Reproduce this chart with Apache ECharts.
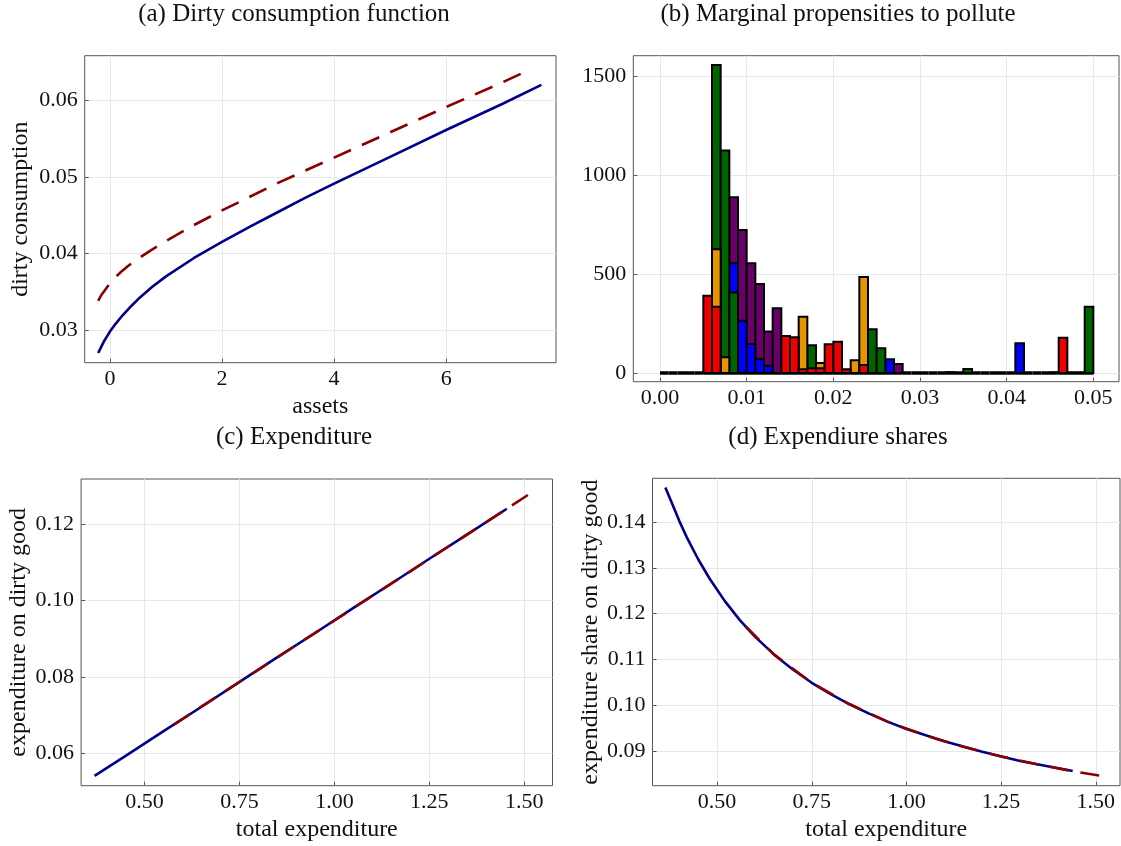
<!DOCTYPE html>
<html>
<head>
<meta charset="utf-8">
<script src="https://cdn.jsdelivr.net/npm/echarts@6/dist/echarts.min.js"></script>
<style>
html,body{margin:0;padding:0;background:#fff;}
#chart{width:1121px;height:846px;}
</style>
</head>
<body>
<div id="chart"></div>
<script>
// ---------- Panel (a): dirty consumption function ----------
const assetsBlue = [-0.21, -0.15, -0.1, -0.05, 0, 0.1, 0.2, 0.35, 0.5, 0.75, 1, 1.5, 2, 2.5, 3, 3.5, 4, 5, 6, 7, 7.70];
const dirtyBlue  = [0.0270, 0.0279, 0.0286, 0.0292, 0.0298, 0.0308, 0.0317, 0.0329, 0.0340, 0.0356, 0.0370, 0.0394, 0.0415, 0.0435, 0.0454, 0.0473, 0.0491, 0.0526, 0.0561, 0.0595, 0.0620];
const assetsRed  = [-0.21, -0.15, -0.1, -0.05, 0, 0.1, 0.2, 0.35, 0.5, 0.75, 1, 1.5, 2, 3, 4, 5, 6, 7, 7.494];
const dirtyRed   = [0.0338, 0.0346, 0.0351, 0.0356, 0.0361, 0.0369, 0.0376, 0.0385, 0.0393, 0.0405, 0.0416, 0.0437, 0.0456, 0.0492, 0.0525, 0.0558, 0.0591, 0.0623, 0.0640];

// ---------- Panel (b): marginal propensities to pollute (histogram, bin width 0.001 from 0) ----------
const binStart = 0.0;
const binWidth = 0.001;
const countsPurple = [0,0,0,0,0, 0,0,0,887,722, 554,449,209,327,0, 0,0,0,0,0, 0,0,0,0,0, 0,0,45,0,0, 0,0,0,0,0, 0,0,0,0,0, 0,0,0,0,0, 0,0,0,0,0];
const countsBlue   = [0,0,0,0,0, 0,0,0,554,264, 146,69,37,0,0, 0,0,0,0,0, 0,0,0,0,0, 0,69,0,0,0, 0,0,0,0,0, 0,0,0,0,0, 0,150,0,0,0, 0,0,0,0,0];
const countsGreen  = [0,0,0,0,0, 0,1555,1123,406,0, 0,0,0,0,0, 0,0,140,0,0, 0,0,0,0,221, 125,0,0,0,0, 0,0,0,0,0, 20,0,0,0,0, 0,0,0,0,0, 0,0,0,0,335];
const countsOrange = [0,0,0,0,0, 0,625,79,0,0, 0,0,0,0,0, 0,284,0,50,0, 0,0,64,485,0, 0,0,0,0,0, 0,0,0,0,0, 0,0,0,0,0, 0,0,0,0,0, 0,0,0,0,0];
const countsRed    = [0,0,0,0,0, 390,335,0,0,0, 0,0,0,0,187, 180,19,24,24,145, 158,19,0,40,0, 0,0,0,0,0, 0,0,0,4,0, 0,0,0,0,0, 0,0,0,0,0, 3,178,0,0,0];

// ---------- Panel (c): expenditure ----------
const totExpBlueC = [0.368, 0.45, 0.55, 0.65, 0.75, 0.85, 0.95, 1.05, 1.15, 1.25, 1.35, 1.454];
const dirtyExpBlueC = [0.0541, 0.0593, 0.0658, 0.0722, 0.0787, 0.0852, 0.0916, 0.0981, 0.1045, 0.1110, 0.1174, 0.1241];
const totExpRedC = [0.577, 0.7, 0.8, 0.9, 1.0, 1.1, 1.2, 1.3, 1.4, 1.5095];
const dirtyExpRedC = [0.0675, 0.0755, 0.0819, 0.0884, 0.0948, 0.1013, 0.1077, 0.1142, 0.1206, 0.1277];

// ---------- Panel (d): expenditure shares ----------
const totExpBlueD = [0.3634, 0.38, 0.40, 0.42, 0.45, 0.48, 0.52, 0.56, 0.60, 0.65, 0.70, 0.75, 0.80, 0.85, 0.90, 0.95, 1.00, 1.10, 1.20, 1.30, 1.439];
const shareBlueD  = [0.1476, 0.1443, 0.1403, 0.1367, 0.1319, 0.1277, 0.1228, 0.1186, 0.1150, 0.1111, 0.1078, 0.1049, 0.1024, 0.1002, 0.0982, 0.0964, 0.0948, 0.0921, 0.0898, 0.0878, 0.0856];
const totExpRedD  = [0.5755, 0.65, 0.75, 0.85, 0.95, 1.05, 1.15, 1.25, 1.35, 1.45, 1.536];
const shareRedD   = [0.1172, 0.1111, 0.1049, 0.1002, 0.0964, 0.0934, 0.0909, 0.0888, 0.0870, 0.0854, 0.0843];

// ---------- Tick labels ----------
const ticksAX = [0, 2, 4, 6];
const ticksAY = [0.03, 0.04, 0.05, 0.06];
const ticksBX = [0, 0.01, 0.02, 0.03, 0.04, 0.05];
const ticksBY = [0, 500, 1000, 1500];
const ticksCX = [0.5, 0.75, 1.0, 1.25, 1.5];
const ticksCY = [0.06, 0.08, 0.10, 0.12];
const ticksDX = [0.5, 0.75, 1.0, 1.25, 1.5];
const ticksDY = [0.09, 0.10, 0.11, 0.12, 0.13, 0.14];

const titles = ['(a) Dirty consumption function', '(b) Marginal propensities to pollute', '(c) Expenditure', '(d) Expendiure shares'];

const FONT = 'Liberation Serif';
const BLUE = '#00008b', RED = '#8b0000';
const DASH = [19, 12];

function zip(xs, ys) { return xs.map((x, i) => [x, ys[i]]); }

function valAxis(gi, min, max, ticks, fmt, name, nameGap, isY) {
  return {
    type: 'value', gridIndex: gi, min: min, max: max,
    name: name || '', nameLocation: 'middle', nameGap: nameGap || 0,
    nameTextStyle: { fontFamily: FONT, fontSize: 24, color: '#111' },
    axisLine: { show: false, onZero: false },
    axisTick: { show: true, inside: true, length: 4, lineStyle: { color: '#555' }, customValues: ticks },
    axisLabel: { show: true, fontFamily: FONT, fontSize: 22, color: '#111', margin: isY ? 7 : 6,
                 formatter: fmt, customValues: ticks, hideOverlap: false, showMinLabel: true, showMaxLabel: true },
    splitLine: { show: true, lineStyle: { color: '#e8e8e8', width: 1 } }
  };
}

const f0 = v => String(Math.round(v));
const f2 = v => Number(v).toFixed(2);

function histSeries(name, counts, color) {
  return {
    type: 'custom', name: name, xAxisIndex: 1, yAxisIndex: 1, clip: true,
    data: counts.map((c, i) => [binStart + i * binWidth, binStart + (i + 1) * binWidth, c]),
    encode: { x: [0, 1], y: 2 },
    renderItem: function (params, api) {
      const x0 = api.value(0), x1 = api.value(1), c = api.value(2);
      if (!(c > 0)) return null;
      const p0 = api.coord([x0, c]);
      const p1 = api.coord([x1, 0]);
      return { type: 'rect',
        shape: { x: p0[0], y: p0[1], width: p1[0] - p0[0], height: p1[1] - p0[1] },
        style: { fill: color, stroke: '#000', lineWidth: 2 } };
    }
  };
}

const baseSeries = {
  type: 'custom', name: 'base', xAxisIndex: 1, yAxisIndex: 1,
  data: countsRed.map((c, i) => [binStart + i * binWidth, binStart + (i + 1) * binWidth, 0]),
  encode: { x: [0, 1], y: 2 },
  renderItem: function (params, api) {
    const p0 = api.coord([api.value(0), 0]);
    const p1 = api.coord([api.value(1), 0]);
    return { type: 'line', shape: { x1: p0[0], y1: p0[1], x2: p1[0], y2: p1[1] },
             style: { stroke: '#000', lineWidth: 3.5 } };
  }
};

function lineSeries(gi, data, color, dashed) {
  return {
    type: 'line', xAxisIndex: gi, yAxisIndex: gi, data: data,
    showSymbol: false, symbol: 'none', smooth: false,
    lineStyle: { color: color, width: 2.6, type: dashed ? DASH : 'solid', cap: 'butt', join: 'round' },
    silent: true, animation: false
  };
}

const grids = [
  { left: 84.7, top: 55.7, width: 471.3, height: 307 },
  { left: 633.3, top: 55.7, width: 485.7, height: 326 },
  { left: 81.1, top: 479, width: 471.4, height: 306.7 },
  { left: 652.5, top: 478.3, width: 467.5, height: 307.4 }
].map(g => Object.assign(g, { show: true, borderColor: '#555', borderWidth: 1, backgroundColor: 'transparent' }));

const option = {
  animation: false,
  backgroundColor: '#fff',
  grid: grids,
  xAxis: [
    valAxis(0, -0.451, 7.961, ticksAX, f0, 'assets', 32, false),
    valAxis(1, -0.00308, 0.05296, ticksBX, f2, '', 0, false),
    valAxis(2, 0.3327, 1.5743, ticksCX, f2, 'total expenditure', 32, false),
    valAxis(3, 0.3294, 1.5640, ticksDX, f2, 'total expenditure', 32, false)
  ],
  yAxis: [
    valAxis(0, 0.02573, 0.0658, ticksAY, f2, 'dirty consumption', 52, true),
    valAxis(1, -44, 1602, ticksBY, f0, '', 0, true),
    valAxis(2, 0.0515, 0.1319, ticksCY, f2, 'expenditure on dirty good', 50, true),
    valAxis(3, 0.0824, 0.1496, ticksDY, f2, 'expenditure share on dirty good', 49, true)
  ],
  graphic: titles.map((t, i) => ({
    type: 'text',
    x: [294, 838, 294, 838][i],
    y: [14, 14, 437, 437][i],
    style: { text: t, align: 'center', verticalAlign: 'middle', font: '25px "' + FONT + '"', fill: '#111' }
  })),
  series: [
    lineSeries(0, zip(assetsBlue, dirtyBlue), BLUE, false),
    lineSeries(0, zip(assetsRed, dirtyRed), RED, true),
    baseSeries,
    histSeries('purple', countsPurple, '#6a006a'),
    histSeries('blue', countsBlue, '#0000ff'),
    histSeries('green', countsGreen, '#006400'),
    histSeries('orange', countsOrange, '#e69500'),
    histSeries('red', countsRed, '#ee0000'),
    lineSeries(2, zip(totExpBlueC, dirtyExpBlueC), BLUE, false),
    lineSeries(2, zip(totExpRedC, dirtyExpRedC), RED, true),
    lineSeries(3, zip(totExpBlueD, shareBlueD), BLUE, false),
    lineSeries(3, zip(totExpRedD, shareRedD), RED, true)
  ]
};

const chart = echarts.init(document.getElementById('chart'), null, { renderer: 'canvas' });
chart.setOption(option);
</script>
</body>
</html>
